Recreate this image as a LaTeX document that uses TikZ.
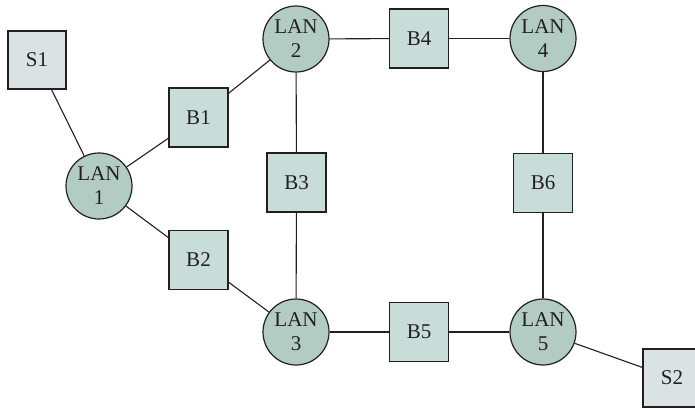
\documentclass[tikz,border=0pt]{standalone}
\usepackage{fontspec}
\setmainfont{Liberation Serif}
\definecolor{lanfill}{RGB}{178,204,196}
\definecolor{brfill}{RGB}{200,220,216}
\definecolor{stfill}{RGB}{218,226,228}
\definecolor{ink}{RGB}{35,31,32}
\begin{document}
\begin{tikzpicture}[x=1pt,y=-1pt,
  lan/.style={circle,draw=ink,line width=1.2pt,fill=lanfill,minimum size=66pt,inner sep=0pt,align=center,font=\fontsize{21}{24}\selectfont,text=ink},
  bridge/.style={rectangle,draw=ink,line width=1.2pt,fill=brfill,minimum size=59pt,inner sep=0pt,font=\fontsize{21}{24}\selectfont,text=ink},
  station/.style={rectangle,draw=ink,line width=1.2pt,fill=stfill,minimum size=58pt,inner sep=0pt,font=\fontsize{21}{24}\selectfont,text=ink},
  link/.style={draw=ink,line width=1.1pt}]
\useasboundingbox (0,0) rectangle (695,407);
\clip (0,0) rectangle (695,407);
\node[station] (S1) at (37,60) {S1};
\node[lan] (L1) at (99,186) {LAN\\1};
\node[bridge] (B1) at (198.5,117.5) {B1};
\node[bridge] (B2) at (198.5,260) {B2};
\node[lan] (L2) at (296,39) {LAN\\2};
\node[bridge] (B3) at (296.5,182.5) {B3};
\node[lan] (L3) at (296,332) {LAN\\3};
\node[bridge] (B4) at (419,38.5) {B4};
\node[bridge] (B5) at (419,332) {B5};
\node[lan] (L4) at (543,38.5) {LAN\\4};
\node[bridge] (B6) at (543,183) {B6};
\node[lan] (L5) at (543,332) {LAN\\5};
\node[station] (S2) at (672,378) {S2};
\draw[link] (S1) -- (L1);
\draw[link] (L1) -- (B1);
\draw[link] (B1) -- (L2);
\draw[link] (L1) -- (B2);
\draw[link] (B2) -- (L3);
\draw[link] (L2) -- (B4);
\draw[link] (B4) -- (L4);
\draw[link] (L2) -- (B3);
\draw[link] (B3) -- (L3);
\draw[link] (L3) -- (B5);
\draw[link] (B5) -- (L5);
\draw[link] (L4) -- (B6);
\draw[link] (B6) -- (L5);
\draw[link] (L5) -- (S2);
\end{tikzpicture}
\end{document}
